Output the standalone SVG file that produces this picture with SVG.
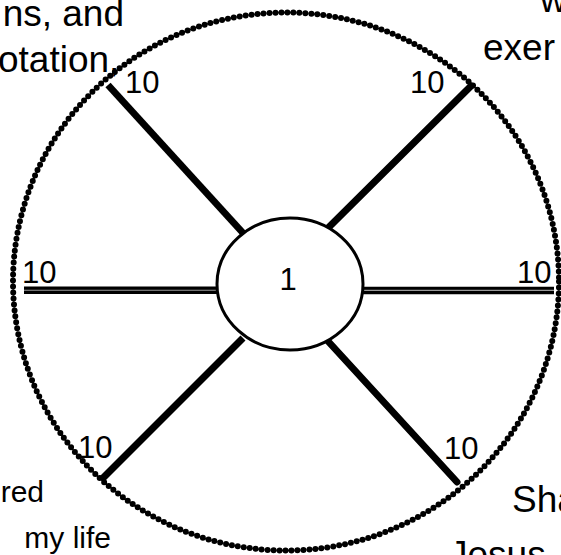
<svg xmlns="http://www.w3.org/2000/svg" width="561" height="555" viewBox="0 0 561 555">
<style>
text{font-family:"Liberation Sans",Arial,sans-serif;font-size:31px;fill:#000}
.big{font-size:37px}
.small{font-size:30px}
.spoke{stroke:#000;stroke-width:7;fill:none}
.dbl{stroke:#000;stroke-width:7.4;fill:none}
.gap{stroke:#999;stroke-width:1.1;fill:none}
</style>
<rect width="561" height="555" fill="#fff"/>
<g id="outer-circle">
<ellipse cx="286" cy="281.5" rx="273" ry="269" fill="none" stroke="#000" stroke-width="6" stroke-dasharray="0 6" stroke-linecap="round"/>
</g>
<g id="connectors">
<line class="spoke" x1="108" y1="85" x2="243" y2="233" stroke-linecap="butt"/>
<line class="spoke" x1="471" y1="86" x2="326" y2="230" stroke-linecap="round"/>
<line class="spoke" x1="101" y1="480" x2="243" y2="338" stroke-linecap="butt"/>
<line class="spoke" x1="457" y1="482" x2="326" y2="339" stroke-linecap="round"/>
<line class="dbl" x1="24" y1="290.3" x2="217" y2="290.3"/>
<line class="gap" x1="24" y1="290.2" x2="217" y2="290.2"/>
<line class="dbl" x1="363" y1="290.5" x2="554" y2="290.5"/>
<line class="gap" x1="363" y1="290.4" x2="554" y2="290.4"/>
</g>
<g id="center-node">
<ellipse cx="290" cy="284" rx="73" ry="66" fill="#fff" stroke="#000" stroke-width="3"/>
<text x="288" y="290" text-anchor="middle">1</text>
</g>
<g id="labels">
<text x="125" y="93">10</text>
<text x="410" y="93">10</text>
<text x="22" y="283">10</text>
<text x="517" y="283">10</text>
<text x="78" y="458">10</text>
<text x="444" y="459">10</text>
</g>
<g id="notes">
<text class="big" x="124" y="26" text-anchor="end">ns, and</text>
<text class="big" x="-2" y="72">otation,</text>
<text class="big" x="540" y="12">w</text>
<text class="big" x="483" y="60">exer</text>
<text class="small" x="44" y="502" text-anchor="end">red</text>
<text class="small" x="111" y="548" text-anchor="end">my life</text>
<text class="big" x="512" y="512">Sha</text>
<text class="big" x="449" y="567">Jesus</text>
</g>
</svg>
